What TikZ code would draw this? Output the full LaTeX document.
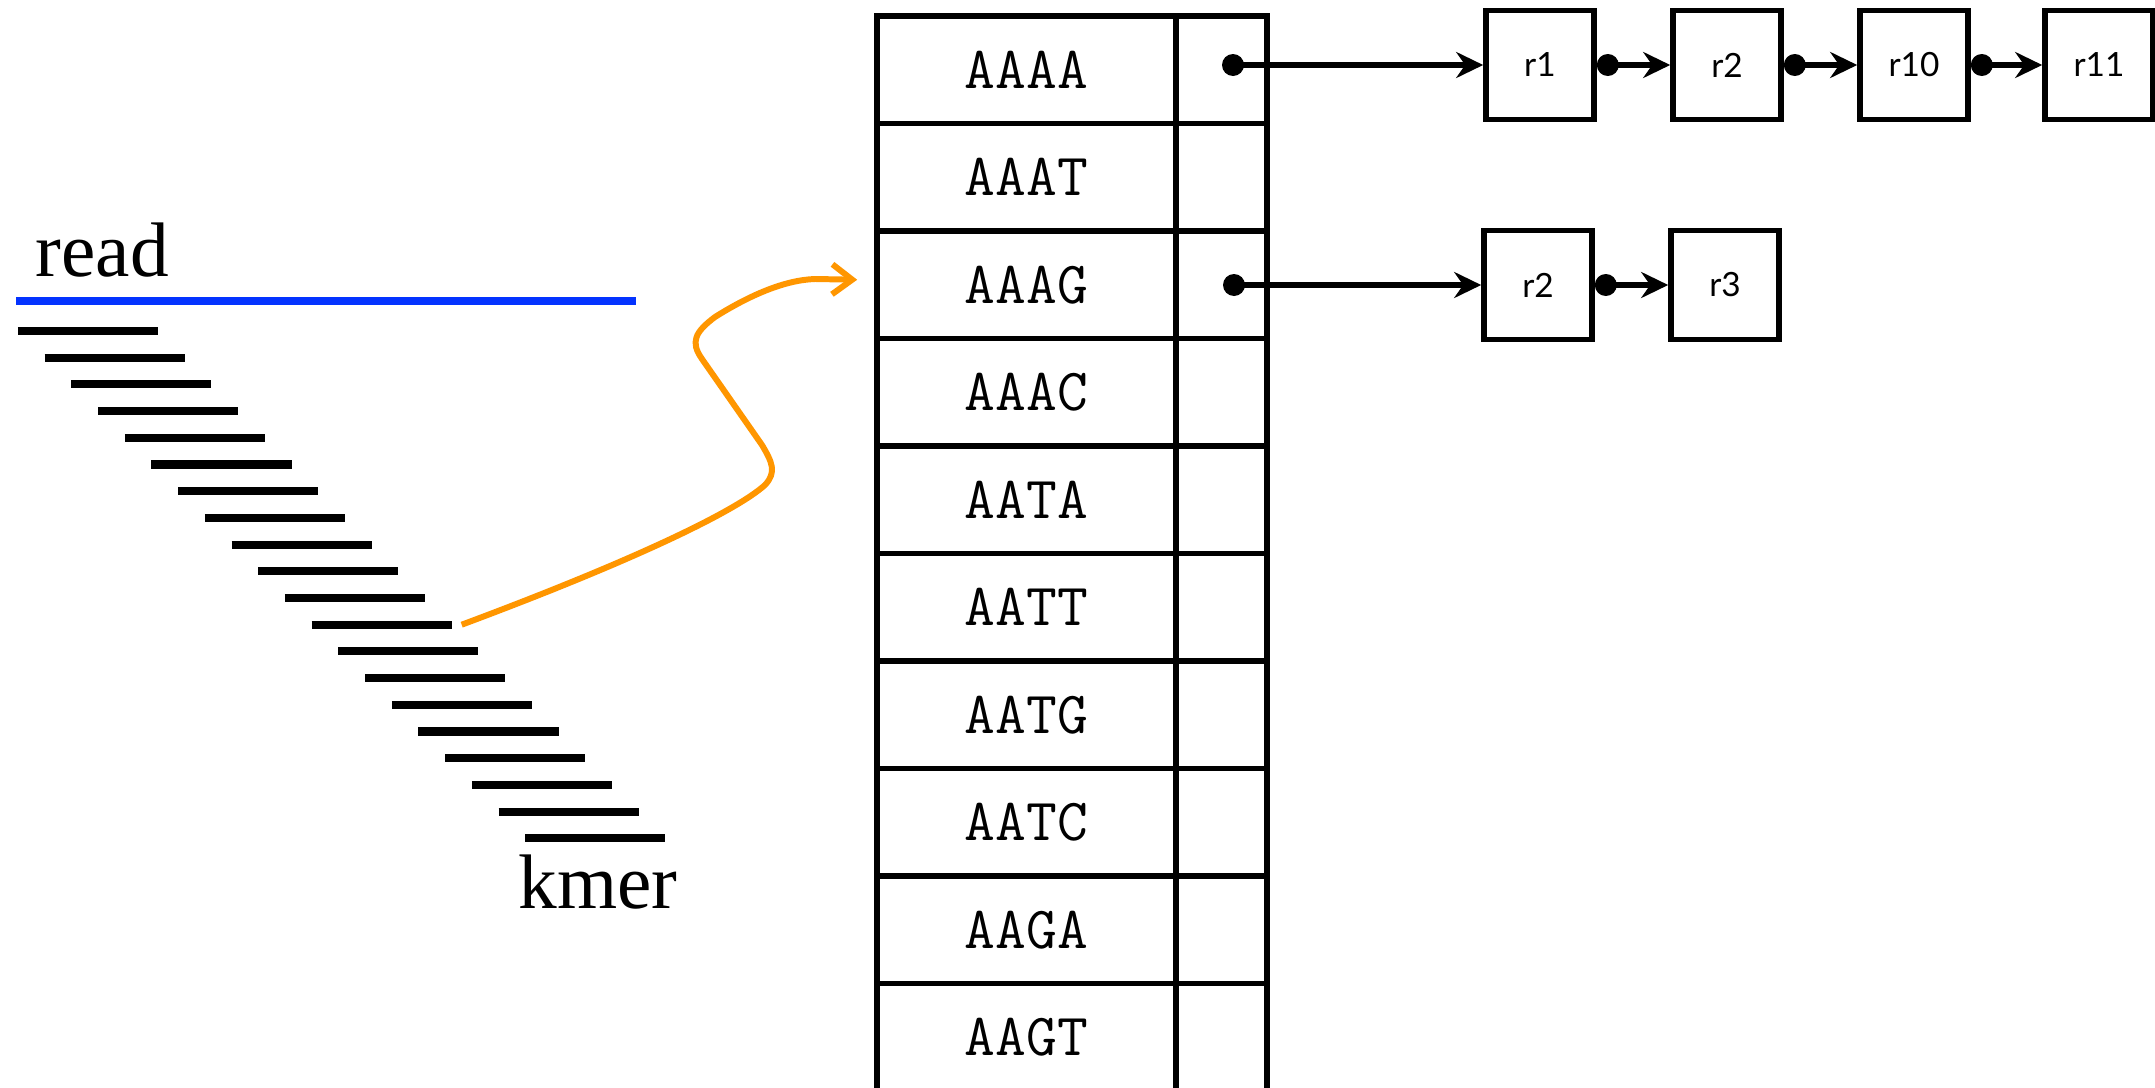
\documentclass[tikz,border=0pt]{standalone}
\usepackage{fontspec}
\setmainfont{Liberation Serif}
\newfontfamily\listfont{Lato}
\usetikzlibrary{arrows.meta,calc}

\definecolor{readblue}{RGB}{4,51,255}
\definecolor{linkorange}{RGB}{255,150,0}

\tikzset{
	keycell/.style={draw, line width=1.6pt, minimum width=2.99cm, minimum height=1.075cm, inner sep=0pt, font=\fontsize{17}{20}\selectfont\ttfamily},
	ptrcell/.style={draw, line width=1.6pt, minimum width=0.91cm, minimum height=1.075cm, inner sep=0pt},
	listbox/.style={draw, line width=1.6pt, minimum width=1.08cm, minimum height=1.09cm, inner sep=0pt, font=\fontsize{9.5}{11}\selectfont\listfont},
	dot/.style={circle, fill=black, inner sep=0pt, minimum size=0.22cm},
	ptr/.style={line width=1.5pt, -{Stealth[length=0.27cm, width=0.26cm, inset=0.09cm]}},
	kmerbar/.style={line width=2.3pt},
	lbl/.style={inner sep=0pt, font=\fontsize{22}{26}\selectfont},
}

\begin{document}
\begin{tikzpicture}
			%%%%% START %%%%%
			\useasboundingbox (0,0) rectangle (21.55,10.87);
			\clip (0,0) rectangle (21.55,10.87);
			
			% read and its kmers
			\node[lbl, anchor=base west] (readlbl) at (0.35,8.11) {read};
			\draw[line width=2.3pt, color=readblue] (0.16,7.86) -- (6.36,7.86);
			\foreach \i in {0,...,19}{
				\draw[kmerbar] ({0.18+0.267*\i},{7.56-0.267*\i}) -- ({1.58+0.267*\i},{7.56-0.267*\i}) coordinate (b\i);
			}
			\node[lbl, anchor=base west] (kmerlbl) at (5.18,1.79) {kmer};
			
			% hash table
			\foreach \key [count=\i] in {AAAA,AAAT,AAAG,AAAC,AATA,AATT,AATG,AATC,AAGA,AAGT}{
				\node[keycell] (k\i) at (10.265,{10.71-(\i-0.5)*1.075}) {\key};
				\node[ptrcell] (p\i) at (12.215,{10.71-(\i-0.5)*1.075}) {};
			}
			
			% kmer -> bucket
			\draw[line width=1.7pt, color=linkorange, -{Straight Barb[length=0.2cm, width=0.3cm]}]
				([xshift=0.1cm]b11) .. controls (6.3,5.25) and (7.35,5.75) .. (7.65,6.02)
				.. controls (7.77,6.15) and (7.72,6.25) .. (7.62,6.42)
				-- (7.02,7.28)
				.. controls (6.90,7.45) and (6.95,7.55) .. (7.15,7.70)
				.. controls (7.5,7.92) and (7.85,8.07) .. (8.15,8.08)
				-- ([xshift=-0.17cm,yshift=0.05cm]k3.west);
			
			% read lists
			\node[listbox] (a1) at (15.40,10.22) {r1};
			\node[listbox] (a2) at (17.27,10.22) {r2};
			\node[listbox] (a3) at (19.14,10.22) {r10};
			\node[listbox] (a4) at (20.99,10.22) {r11};
			\node[listbox] (g1) at (15.38,8.02) {r2};
			\node[listbox] (g2) at (17.25,8.02) {r3};
			
			\node[dot] (d1) at (12.33,10.22) {};
			\node[dot] (d3) at (12.34,8.02) {};
			\draw[ptr] (d1.center) -- (a1);
			\draw[ptr] (d3.center) -- (g1);
			
			\foreach \x/\y in {a1/a2,a2/a3,a3/a4,g1/g2}{
				\node[dot] (e\x) at ([xshift=0.11cm]\x.east) {};
				\draw[ptr] (e\x.center) -- (\y);
			}
			
			%%%%% END %%%%%
		\end{tikzpicture}
\end{document}
